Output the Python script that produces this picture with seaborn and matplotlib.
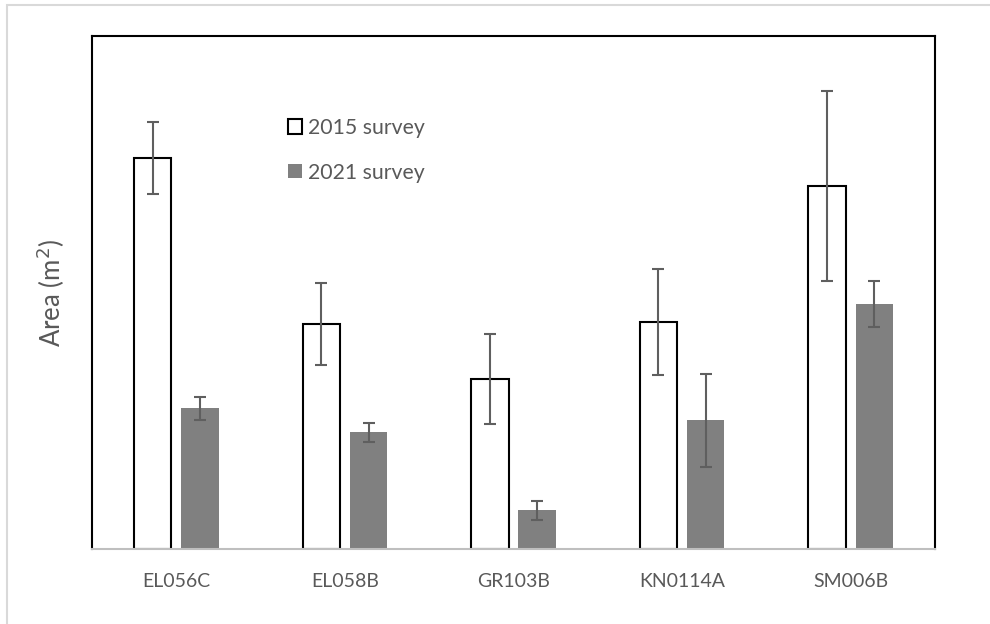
import matplotlib
matplotlib.use("Agg")
import matplotlib.pyplot as plt
import matplotlib.patches as mpatches
import seaborn as sns
import pandas as pd
import numpy as np

sites = ["EL056C", "EL058B", "GR103B", "KN0114A", "SM006B"]
surveys = ["2015 survey", "2021 survey"]
area_2015 = [3.91, 2.25, 1.70, 2.27, 3.63]
err_2015 = [0.36, 0.41, 0.45, 0.525, 0.95]
area_2021 = [1.41, 1.17, 0.39, 1.29, 2.45]
err_2021 = [0.115, 0.095, 0.095, 0.465, 0.23]

df = pd.DataFrame({
    "site": sites * 2,
    "survey": [surveys[0]] * len(sites) + [surveys[1]] * len(sites),
    "area": area_2015 + area_2021,
    "err": err_2015 + err_2021,
})

sns.set_theme(style="white")
plt.rcParams["font.family"] = ["Lato", "DejaVu Sans"]
text_col = "#595959"

fig = plt.figure(figsize=(9.9, 6.24), dpi=100)
ax = fig.add_axes([92 / 990, 1 - 549 / 624, (935 - 92) / 990, (549 - 36) / 624])

sns.barplot(data=df, x="site", y="area", hue="survey", order=sites,
            hue_order=surveys, palette=["white", "#808080"],
            width=0.56, gap=0.21, errorbar=None, ax=ax, legend=False)

# style bars and add error bars
n = len(sites)
patches = [p for p in ax.patches if isinstance(p, mpatches.Rectangle)][:2 * n]
for i, p in enumerate(patches):
    if i < n:
        p.set_edgecolor("black")
        p.set_linewidth(1.5)
    else:
        p.set_edgecolor("none")
    row = df.iloc[i]
    xc = p.get_x() + p.get_width() / 2
    ax.errorbar(xc, row["area"], yerr=row["err"], fmt="none",
                ecolor="#5f5f5f", elinewidth=1.5, capsize=4.5, capthick=1.5,
                zorder=5)

ax.set_ylim(0, 5.13)
ax.set_xlim(-0.5, n - 0.5)
ax.set_yticks([])
ax.set_xlabel("")
ax.set_ylabel("Area (m$^2$)", fontsize=18.5, color=text_col, labelpad=18)
ax.tick_params(axis="x", length=0, pad=17, labelsize=14, labelcolor=text_col)

for s in ["left", "top", "right"]:
    ax.spines[s].set_color("black")
    ax.spines[s].set_linewidth(1.5)
ax.spines["bottom"].set_color("#bfbfbf")
ax.spines["bottom"].set_linewidth(1.5)

# legend
handles = [mpatches.Patch(facecolor="white", edgecolor="black", linewidth=1.5),
           mpatches.Patch(facecolor="#808080", edgecolor="none")]
leg = ax.legend(handles, surveys, loc="upper left",
                bbox_to_anchor=((288 - 92) / 843, 1 - (118 - 36) / 513),
                frameon=False, fontsize=15.3, labelcolor=text_col,
                handlelength=0.65, handleheight=0.65, handletextpad=0.3,
                labelspacing=1.16, borderaxespad=0, borderpad=0)

# outer chart border
fig.patches.append(mpatches.Rectangle((7 / 990, -0.1), 1.2, 1 - 5 / 624 + 0.1,
                                      transform=fig.transFigure, fill=False,
                                      edgecolor="#d9d9d9", linewidth=1.5))

fig.savefig("out.png", dpi=100)
